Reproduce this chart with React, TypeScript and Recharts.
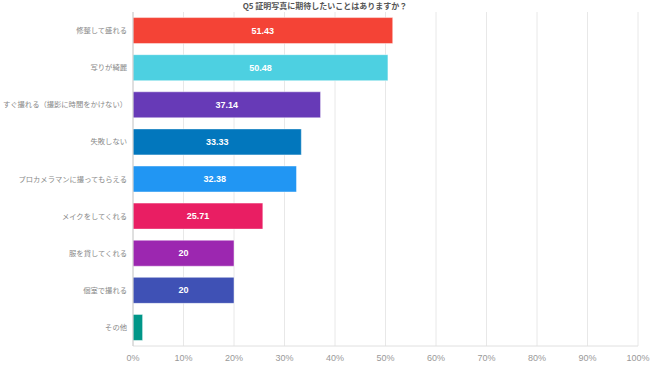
import { BarChart, Bar, XAxis, YAxis, CartesianGrid, Cell, LabelList } from 'recharts';

const categories = [
  '修整して盛れる',
  '写りが綺麗',
  'すぐ撮れる（撮影に時間をかけない）',
  '失敗しない',
  'プロカメラマンに撮ってもらえる',
  'メイクをしてくれる',
  '服を貸してくれる',
  '個室で撮れる',
  'その他',
];
const values = [51.43, 50.48, 37.14, 33.33, 32.38, 25.71, 20, 20, 1.9];
const colors = ['#F44336', '#4DD0E1', '#673AB7', '#0277BD', '#2196F3', '#E91E63', '#9C27B0', '#3F51B5', '#009688'];
const xTicks = [0, 10, 20, 30, 40, 50, 60, 70, 80, 90, 100];

const data = categories.map((name, i) => ({ name, value: values[i] }));

const font = '"Noto Sans CJK JP", "Noto Sans", sans-serif';
const numFont = '"Liberation Sans", Arial, sans-serif';

function BarLabel(props: any) {
  const { x, y, width, height, value } = props;
  if (value < 5) return null;
  return (
    <text
      x={x + width / 2}
      y={y + height / 2}
      fill="#fff"
      fontSize={9}
      fontWeight="bold"
      fontFamily={numFont}
      textAnchor="middle"
      dominantBaseline="central"
    >
      {value}
    </text>
  );
}

export default function App() {
  return (
    <div style={{ position: 'absolute', left: 0, top: 0, width: 650, height: 365, background: '#fff', fontFamily: font }}>
      <div
        style={{
          position: 'absolute',
          top: 0,
          left: 0,
          width: 650,
          textAlign: 'center',
          fontSize: 8,
          fontWeight: 'bold',
          color: '#555',
          lineHeight: '11px',
        }}
      >
        Q5 証明写真に期待したいことはありますか？
      </div>
      <BarChart
        width={650}
        height={365}
        data={data}
        layout="vertical"
        margin={{ top: 12, right: 12, left: 0, bottom: 0 }}
        barCategoryGap="15%"
      >
        <CartesianGrid horizontal={false} stroke="#e8e8e8" />
        <XAxis
          type="number"
          domain={[0, 100]}
          ticks={xTicks}
          height={19}
          tickFormatter={(v) => `${v}%`}
          tick={{ fill: '#999', fontSize: 9, fontFamily: numFont }}
          axisLine={{ stroke: '#e0e0e0' }}
          tickLine={false}
          tickMargin={3}
          interval={0}
        />
        <YAxis
          type="category"
          dataKey="name"
          width={133}
          tick={{ fill: '#888', fontSize: 7.3, fontFamily: font }}
          axisLine={{ stroke: '#ccc' }}
          tickLine={false}
          tickSize={4}
          tickMargin={2}
          interval={0}
        />
        <Bar dataKey="value" isAnimationActive={false} stroke="rgba(255,255,255,0.45)" strokeWidth={1}>
          {data.map((d, i) => (
            <Cell key={d.name} fill={colors[i]} />
          ))}
          <LabelList dataKey="value" content={BarLabel} />
        </Bar>
      </BarChart>
    </div>
  );
}
